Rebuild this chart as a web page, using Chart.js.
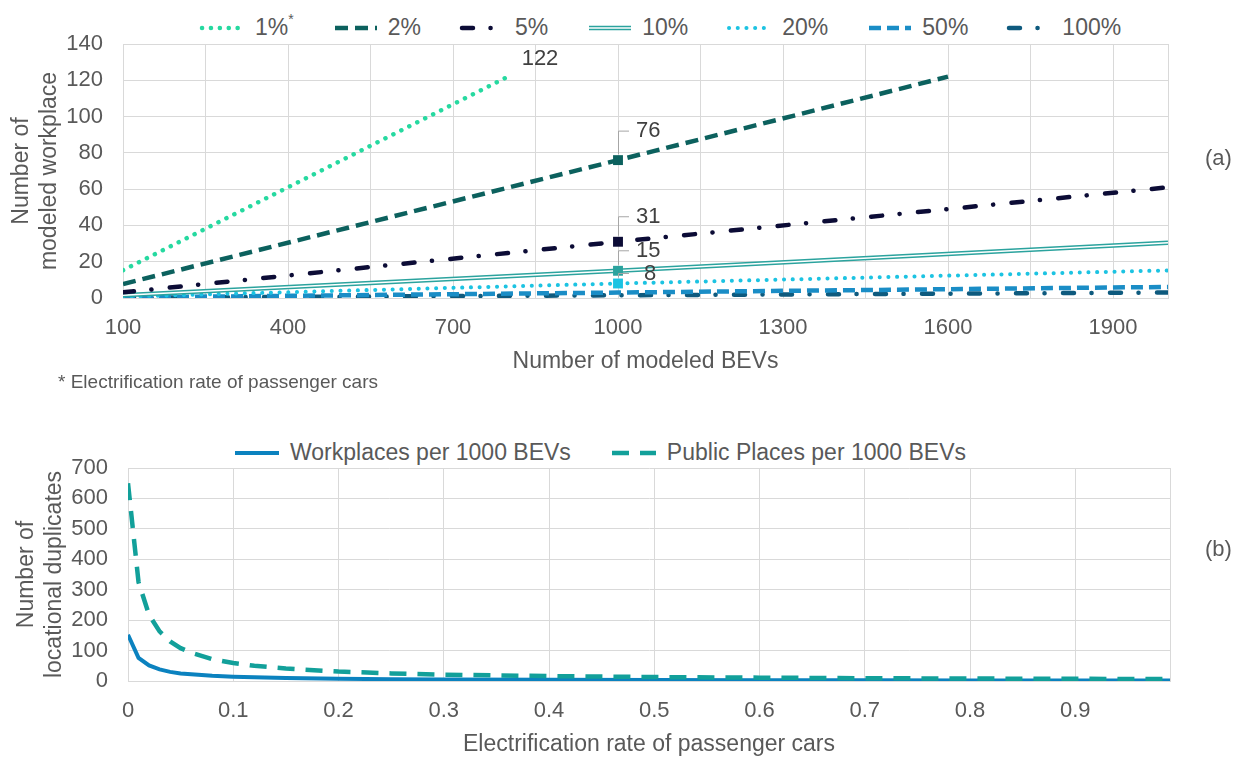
<!DOCTYPE html>
<html>
<head>
<meta charset="utf-8">
<script src="https://cdn.jsdelivr.net/npm/chart.js@4.4.0/dist/chart.umd.min.js"></script>
<style>
    body {
        margin: 0;
        width: 1248px;
        height: 758px;
        background: #fff;
        font-family: "Liberation Sans", Arial, sans-serif;
        color: #595959;
        position: relative;
        overflow: hidden;
    }
    .box { position: absolute; left: 0; width: 1248px; }
    #boxA { top: 0; height: 390px; }
    #boxB { top: 400px; height: 358px; }
    .legend {
        position: absolute;
        display: flex;
        align-items: center;
        font-size: 23px;
        line-height: 27px;
        white-space: nowrap;
    }
    .legend .item { display: flex; align-items: center; margin-right: 38px; }
    .legend svg { margin-right: 8px; }
    .legend sup { font-size: 14px; line-height: 0; position: relative; top: -2px; }
    #legendA { left: 199px; top: 14px; }
    #legendB { left: 232px; top: 439px; }
    .note { position: absolute; white-space: nowrap; }
</style>
</head>
<body>

<div id="legendA" class="legend"></div>
<div id="boxA" class="box"><canvas id="chartA"></canvas></div>
<div class="note" style="left:58px; top:371px; font-size:19px;">* Electrification rate of passenger cars</div>
<div class="note" style="left:1205px; top:145px; font-size:22px;">(a)</div>

<div id="legendB" class="legend"></div>
<div id="boxB" class="box"><canvas id="chartB"></canvas></div>
<div class="note" style="left:1205px; top:536px; font-size:22px;">(b)</div>

<script>
/* ============================================================
   DATA
============================================================ */

// (a) modeled workplaces vs. modeled BEVs, per electrification rate
const bevs1 = [100, 800];
const places1 = [15.3, 122];
const bevs2 = [100, 1000, 1600];
const places2 = [7.7, 76, 122];
const bevsFull = [100, 1000, 2000];
const places5 = [3.1, 31, 61];
const places10 = [1.5, 15, 30.5];
const places20 = [0.8, 8, 15.2];
const places50 = [0.3, 3, 6.1];
const places100 = [0.15, 1.5, 3];

const xGridA = [100, 250, 400, 550, 700, 850, 1000, 1150, 1300, 1450, 1600, 1750, 1900, 2000];
const xLabelsA = [100, 400, 700, 1000, 1300, 1600, 1900];

// (b) duplicates per 1000 BEVs vs. electrification rate
const rates = [0, 0.01, 0.02, 0.03, 0.04, 0.05, 0.06, 0.08, 0.1, 0.12, 0.15, 0.2, 0.25, 0.3, 0.4, 0.5, 0.6, 0.7, 0.8, 0.9, 0.99];
const workplaces = [152, 76, 51, 38, 30, 25, 22, 17, 14, 12, 9.5, 7.2, 6, 5, 3.8, 3, 2.5, 2.2, 1.9, 1.7, 1.5];
const publicPlaces = [650, 325, 217, 163, 130, 108, 93, 72, 59, 50, 41, 31, 25, 21, 16, 13, 11, 9.2, 8, 7.2, 6.5];

const xGridB = [0, 0.1, 0.2, 0.3, 0.4, 0.5, 0.6, 0.7, 0.8, 0.9, 0.99];
const xLabelsB = [0, 0.1, 0.2, 0.3, 0.4, 0.5, 0.6, 0.7, 0.8, 0.9];

/* ============================================================
   HELPERS
============================================================ */

const TEXT = "#595959";
const GRID = "#D9D9D9";
const FONT = "'Liberation Sans', Arial, sans-serif";

function pts(xs, ys) {
    return xs.map((x, i) => ({ x: x, y: ys[i] }));
}

// marker only on the middle point (1000 BEVs)
const MID_MARK = [0, 7, 0];

function symbolSvg(ds, w) {
    const dash = (ds.borderDash || []).join(" ");
    const cap = ds.borderCapStyle || "butt";
    let s = `<svg width="${w}" height="12">` +
        `<line x1="3" y1="6" x2="${w - 3}" y2="6" stroke="${ds.borderColor}" stroke-width="${ds.borderWidth}" stroke-linecap="${cap}" stroke-dasharray="${dash}"/>`;
    if (ds.innerLine) {
        s += `<line x1="3" y1="6" x2="${w - 3}" y2="6" stroke="#fff" stroke-width="1.5"/>`;
    }
    return s + "</svg>";
}

/* HTML legend, built from the chart's own datasets */
const htmlLegend = {
    id: "htmlLegend",
    afterUpdate(chart, args, opts) {
        const box = document.getElementById(opts.containerID);
        box.innerHTML = "";
        chart.data.datasets.forEach(ds => {
            if (ds.legendSkip) return;
            const item = document.createElement("div");
            item.className = "item";
            const label = ds.label.replace("*", "<sup>*</sup>");
            item.innerHTML = symbolSvg(ds, opts.symbolWidth) + "<span>" + label + "</span>";
            box.appendChild(item);
        });
    }
};

/* value labels with leader lines */
const callouts = {
    id: "callouts",
    afterDatasetsDraw(chart, args, opts) {
        if (!opts.items) return;
        const ctx = chart.ctx;
        ctx.save();
        ctx.font = "22px " + FONT;
        ctx.fillStyle = "#404040";
        ctx.textBaseline = "middle";
        opts.items.forEach(it => {
            const el = chart.getDatasetMeta(it.ds).data[it.idx];
            const v = chart.data.datasets[it.ds].data[it.idx].y;
            if (it.rise) {
                ctx.strokeStyle = "#A6A6A6";
                ctx.lineWidth = 1;
                ctx.beginPath();
                ctx.moveTo(el.x + 0.5, el.y - 6);
                ctx.lineTo(el.x + 0.5, el.y - it.rise);
                ctx.lineTo(el.x + 11, el.y - it.rise);
                ctx.stroke();
                ctx.textAlign = "left";
                ctx.fillText(String(Math.round(v)), el.x + (it.dx || 18), el.y - it.rise);
            } else {
                ctx.textAlign = "center";
                ctx.fillText(String(Math.round(v)), el.x + it.dx, el.y + it.dy);
            }
        });
        ctx.restore();
    }
};

Chart.defaults.font.family = FONT;
Chart.defaults.color = TEXT;

/* ============================================================
   CHART (a)
============================================================ */

const c1 = "#26D9A0";
const c2 = "#0C615E";
const c5 = "#0C0C36";
const c10 = "#2BA39E";
const c20 = "#1CC3E2";
const c50 = "#1A8DC6";
const c100 = "#0E5A7E";

new Chart(document.getElementById("chartA"), {
    type: "line",
    data: {
        datasets: [
            { label: "1%*", data: pts(bevs1, places1), borderColor: c1, borderWidth: 4.5,
              borderDash: [0.1, 8.8], borderCapStyle: "round", pointRadius: 0 },
            { label: "2%", data: pts(bevs2, places2), borderColor: c2, borderWidth: 4.5,
              borderDash: [13, 7], pointRadius: MID_MARK, pointStyle: "rect",
              pointBackgroundColor: c2, pointBorderColor: c2, pointBorderWidth: 0 },
            { label: "5%", data: pts(bevsFull, places5), borderColor: c5, borderWidth: 4.5,
              borderDash: [11, 17.5, 0.1, 18.4], borderCapStyle: "round", pointRadius: MID_MARK,
              pointStyle: "rect", pointBackgroundColor: c5, pointBorderColor: c5, pointBorderWidth: 0 },
            // white core of the 10% double line (carries the marker)
            { label: "10% core", legendSkip: true, data: pts(bevsFull, places10), borderColor: "#fff",
              borderWidth: 1.5, pointRadius: MID_MARK, pointStyle: "rect",
              pointBackgroundColor: c10, pointBorderColor: c10, pointBorderWidth: 0 },
            { label: "10%", innerLine: true, data: pts(bevsFull, places10), borderColor: c10,
              borderWidth: 4.5, pointRadius: 0 },
            { label: "20%", data: pts(bevsFull, places20), borderColor: c20, borderWidth: 4,
              borderDash: [0.1, 8.6], borderCapStyle: "round", pointRadius: MID_MARK,
              pointStyle: "rect", pointBackgroundColor: c20, pointBorderColor: c20, pointBorderWidth: 0 },
            { label: "50%", data: pts(bevsFull, places50), borderColor: c50, borderWidth: 4.5,
              borderDash: [12, 6], pointRadius: 0 },
            { label: "100%", data: pts(bevsFull, places100), borderColor: c100, borderWidth: 4.5,
              borderDash: [11, 17.5, 0.1, 18.4], borderCapStyle: "round", pointRadius: 0 },
        ]
    },
    options: {
        responsive: true,
        maintainAspectRatio: false,
        animation: false,
        events: [],
        layout: { padding: { top: 44, right: 80, left: 0, bottom: 0 } },
        elements: { line: { tension: 0, fill: false } },
        plugins: {
            legend: { display: false },
            tooltip: { enabled: false },
            htmlLegend: { containerID: "legendA", symbolWidth: 48 },
            callouts: {
                items: [
                    { ds: 0, idx: 1, dx: 32, dy: -18 },
                    { ds: 1, idx: 1, rise: 29 },
                    { ds: 2, idx: 1, rise: 25 },
                    { ds: 3, idx: 1, rise: 20 },
                    { ds: 5, idx: 1, rise: 10, dx: 26 },
                ]
            }
        },
        scales: {
            x: {
                type: "linear",
                min: 100,
                max: 2000,
                afterBuildTicks: axis => { axis.ticks = xGridA.map(v => ({ value: v })); },
                afterFit: s => { s.height = 92; },
                grid: { color: GRID, drawTicks: false },
                border: { color: GRID },
                ticks: {
                    autoSkip: false,
                    maxRotation: 0,
                    padding: 17,
                    font: { size: 22 },
                    callback: v => xLabelsA.includes(v) ? String(v) : ""
                },
                title: {
                    display: true,
                    text: "Number of modeled BEVs",
                    font: { size: 23 },
                    padding: { top: 0, bottom: 15 }
                }
            },
            y: {
                min: 0,
                max: 140,
                afterFit: s => { s.width = 123; },
                grid: { color: GRID, drawTicks: false },
                border: { color: GRID },
                ticks: { stepSize: 20, padding: 20, font: { size: 22 } },
                title: {
                    display: true,
                    text: ["Number of", "modeled workplace"],
                    font: { size: 23, lineHeight: 1.25 },
                    padding: { top: 7, bottom: 0 }
                }
            }
        }
    },
    plugins: [htmlLegend, callouts]
});

/* ============================================================
   CHART (b)
============================================================ */

new Chart(document.getElementById("chartB"), {
    type: "line",
    data: {
        datasets: [
            { label: "Workplaces per 1000 BEVs", data: pts(rates, workplaces), borderColor: "#0B82BF",
              borderWidth: 4, pointRadius: 0, order: 1 },
            { label: "Public Places per 1000 BEVs", data: pts(rates, publicPlaces), borderColor: "#12A09A",
              borderWidth: 4.5, borderDash: [17, 11], pointRadius: 0, order: 0 },
        ]
    },
    options: {
        responsive: true,
        maintainAspectRatio: false,
        animation: false,
        events: [],
        layout: { padding: { top: 68, right: 78, left: 0, bottom: 0 } },
        elements: { line: { tension: 0, fill: false } },
        plugins: {
            legend: { display: false },
            tooltip: { enabled: false },
            htmlLegend: { containerID: "legendB", symbolWidth: 50 }
        },
        scales: {
            x: {
                type: "linear",
                min: 0,
                max: 0.99,
                afterBuildTicks: axis => { axis.ticks = xGridB.map(v => ({ value: v })); },
                afterFit: s => { s.height = 77; },
                grid: { color: GRID, drawTicks: false },
                border: { color: GRID },
                ticks: {
                    autoSkip: false,
                    maxRotation: 0,
                    padding: 17,
                    font: { size: 22 },
                    callback: v => xLabelsB.includes(v) ? String(v) : ""
                },
                title: {
                    display: true,
                    text: "Electrification rate of passenger cars",
                    font: { size: 23 },
                    padding: { top: 0, bottom: 0 }
                }
            },
            y: {
                min: 0,
                max: 700,
                afterFit: s => { s.width = 128; },
                grid: { color: GRID, drawTicks: false },
                border: { color: GRID },
                ticks: { stepSize: 100, padding: 20, font: { size: 22 } },
                title: {
                    display: true,
                    text: ["Number of", "locational duplicates"],
                    font: { size: 23, lineHeight: 1.25 },
                    padding: { top: 12, bottom: 0 }
                }
            }
        }
    },
    plugins: [htmlLegend]
});
</script>
</body>
</html>
